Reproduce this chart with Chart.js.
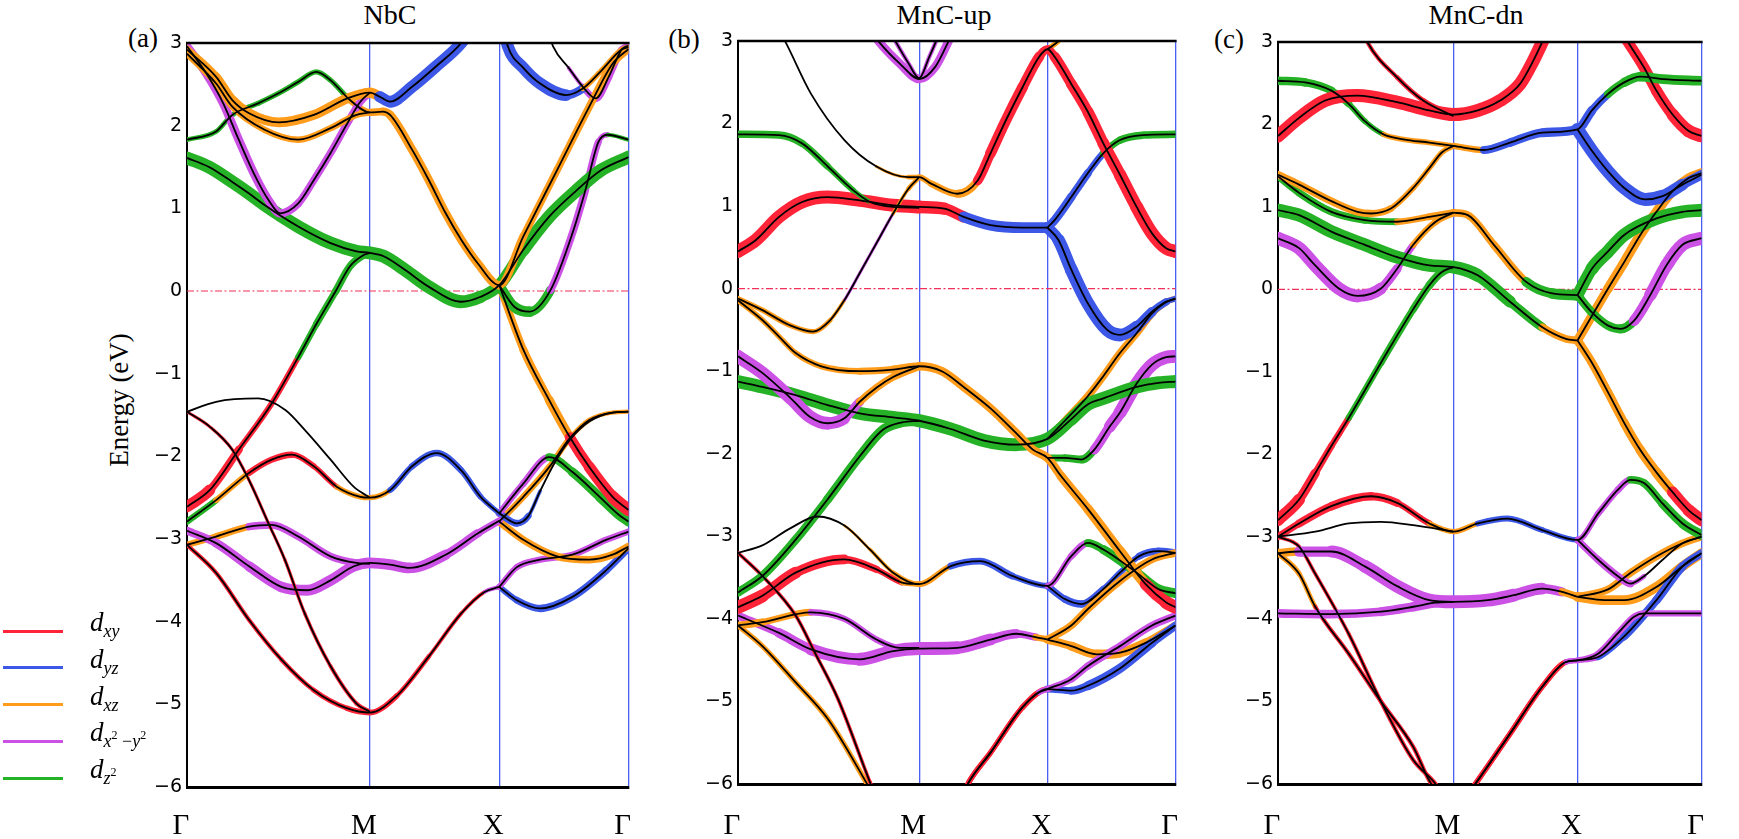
<!DOCTYPE html>
<html>
<head>
<meta charset="utf-8">
<title>d-orbital projected band structures</title>
<script src="https://cdn.jsdelivr.net/npm/chart.js@4.4.1/dist/chart.umd.min.js"></script>
<style>
  body { margin: 0; width: 1739px; height: 839px; background: #fff; position: relative; overflow: hidden; font-family: "Liberation Serif", serif; color: #000; }
  canvas { position: absolute; top: 0; }
  .lbl { position: absolute; transform: translate(-50%, -50%); white-space: nowrap; line-height: 1; }
  .title { font-size: 28px; }
  .tag { font-size: 27px; }
  .ylab { font-size: 27px; transform: translate(-50%, -50%) rotate(-90deg); }
  .key { position: absolute; left: 3px; width: 60px; height: 3px; }
  .keytxt { position: absolute; left: 90px; font-size: 27px; line-height: 27px; white-space: nowrap; }
  .keytxt sub { font-size: 18px; vertical-align: -6px; }
  .keytxt sup { font-size: 12px; vertical-align: 8px; }
</style>
</head>
<body>
<div class="lbl title" style="left:390px;top:15px">NbC</div>
<div class="lbl title" style="left:944px;top:15px">MnC-up</div>
<div class="lbl title" style="left:1476px;top:15px">MnC-dn</div>
<div class="lbl tag" style="left:143px;top:38px">(a)</div>
<div class="lbl tag" style="left:684px;top:39px">(b)</div>
<div class="lbl tag" style="left:1229px;top:39px">(c)</div>
<div class="lbl ylab" style="left:119px;top:400px">Energy (eV)</div>
<canvas id="nbc"></canvas>
<canvas id="mncUp"></canvas>
<canvas id="mncDn"></canvas>
<div id="legend"></div>
<script>
// k path Γ-M-X-Γ (units of π/a), energies in eV relative to E_F
const kNodes = [0, 1.414, 2.414, 3.414];
const kLabels = ['Γ', 'M', 'X', 'Γ'];
const yTicks = [-6, -5, -4, -3, -2, -1, 0, 1, 2, 3];
const fermiLevel = 0;

const orbColors = { xy: '#ff2438', yz: '#3d58e6', xz: '#ff9c1c', x2: '#cc52e6', z2: '#26b226' };
const legendRows = [
  ['xy', '<i>d</i><sub><i>xy</i></sub>'],
  ['yz', '<i>d</i><sub><i>yz</i></sub>'],
  ['xz', '<i>d</i><sub><i>xz</i></sub>'],
  ['x2', '<i>d</i><sub><i>x</i><sup>2</sup> &minus;<i>y</i><sup>2</sup></sub>'],
  ['z2', '<i>d</i><sub><i>z</i><sup>2</sup></sub>']
];

// each band: [k, E, dominant orbital, weight]
const nbcBands = [
  [[0,2.92,'xz',.5],[.225,2.59,'xz',.6],[.35,2.31,'xz',.7],[.48,2.15,'xz',.7],[.71,2.04,'xz',.7],[.98,2.13,'xz',.7],[1.24,2.33,'xz',.7],[1.414,2.4,'xz',.7],[1.49,2.35,'yz',.8],[1.57,2.29,'yz',.9],[1.74,2.47,'yz',.9],[1.92,2.71,'yz',.9],[2.12,3.0,'yz',.9],[2.25,3.3,'yz',.9]],
  [[0,2.87,'xz',.4],[.225,2.51,'xz',.4],[.35,2.23,'xz',.4],[.6,1.95,'xz',.4],[.86,1.83,'xz',.4],[1.11,1.97,'xz',.4],[1.31,2.13,'xz',.4],[1.414,2.16,'xz',.4]],
  [[0,2.96,'x2',.6],[.15,2.63,'x2',.6],[.28,2.27,'x2',.6],[.4,1.83,'x2',.6],[.53,1.38,'x2',.6],[.63,1.1,'x2',.6],[.72,.94,'x2',.6],[.86,1.06,'x2',.5],[.98,1.34,'x2',.5],[1.11,1.67,'x2',.5],[1.24,2.03,'x2',.5],[1.34,2.29,'x2',.5],[1.414,2.4,'x2',.5]],
  [[0,1.83,'z2',.25],[.225,1.93,'z2',.25],[.35,2.13,'z2',.25],[.55,2.27,'z2',.3],[.73,2.41,'z2',.3],[.86,2.53,'z2',.3],[1.0,2.65,'z2',.3],[1.11,2.55,'z2',.3],[1.26,2.31,'xz',.3],[1.414,2.16,'xz',.5],[1.515,2.17,'xz',.5],[1.57,2.13,'xz',.6],[1.74,1.71,'xz',.6],[1.87,1.34,'xz',.6],[2.0,.94,'xz',.6],[2.12,.62,'xz',.6],[2.25,.33,'xz',.6],[2.414,.07,'xz',.6],[2.6,.66,'xz',.5],[2.86,1.46,'xz',.5],[3.11,2.23,'xz',.5],[3.29,2.75,'xz',.5],[3.414,2.93,'xz',.5]],
  [[0,1.61,'z2',1],[.17,1.5,'z2',1],[.35,1.32,'z2',1],[.48,1.18,'z2',1],[.6,1.04,'z2',1],[.86,.78,'z2',1],[1.11,.58,'z2',1],[1.31,.48,'z2',1],[1.414,.46,'z2',1],[1.52,.42,'z2',1],[1.69,.25,'z2',1],[1.87,.05,'z2',1],[2.12,-.13,'z2',1],[2.27,-.07,'z2',.9],[2.414,.07,'z2',.8],[2.6,.5,'z2',1],[2.8,.9,'z2',1],[3.0,1.2,'z2',1],[3.2,1.46,'z2',1],[3.414,1.62,'z2',1]],
  [[2.414,.07,'z2',.6],[2.53,-.19,'z2',.8],[2.65,-.25,'z2',.8],[2.81,.01,'x2',.5],[2.98,.7,'x2',.5],[3.08,1.22,'x2',.5],[3.18,1.8,'x2',.4],[3.25,1.89,'z2',.2],[3.414,1.83,'z2',.2]],
  [[2.414,.07,'xz',.5],[2.6,-.71,'xz',.5],[2.8,-1.32,'xz',.6],[2.96,-1.77,'xy',.7],[3.11,-2.13,'xy',.8],[3.29,-2.49,'xy',.9],[3.414,-2.65,'xy',1]],
  [[0,-2.61,'xy',1],[.175,-2.41,'xy',.7],[.4,-1.92,'xy',.4],[.655,-1.36,'xy',.3],[.86,-.8,'z2',.4],[1.0,-.4,'z2',.4],[1.15,0,'z2',.5],[1.26,.3,'z2',.5],[1.36,.43,'z2',.5],[1.414,.46,'z2',.5]],
  [[0,-2.79,'z2',.5],[.225,-2.53,'xz',.3],[.48,-2.2,'xy',.4],[.655,-2.04,'xy',.4],[.81,-1.98,'xy',.4],[.98,-2.12,'xy',.3],[1.16,-2.37,'xz',.3],[1.34,-2.49,'xz',.3],[1.414,-2.5,'xz',.3],[1.57,-2.41,'yz',.3],[1.74,-2.12,'yz',.4],[1.93,-1.96,'yz',.4],[2.12,-2.17,'yz',.4],[2.27,-2.49,'yz',.3],[2.414,-2.69,'yz',.3]],
  [[0,-1.46,'',0],[.225,-1.34,'',0],[.55,-1.3,'',0],[.76,-1.44,'',0],[.91,-1.68,'',0],[1.11,-2.04,'',0],[1.29,-2.37,'',0],[1.414,-2.5,'',0]],
  [[0,-1.46,'xy',.1],[.175,-1.64,'xy',.1],[.35,-1.92,'xy',.1],[.48,-2.29,'xy',.1],[.63,-2.81,'xy',.1],[.756,-3.25,'xy',.1],[.91,-3.9,'xy',.15],[1.11,-4.54,'xy',.15],[1.31,-4.99,'xy',.2],[1.414,-5.09,'xy',.2]],
  [[0,-3.07,'xy',.2],[.225,-3.41,'xy',.2],[.48,-3.98,'xy',.2],[.73,-4.46,'xy',.2],[.98,-4.83,'xy',.25],[1.24,-5.05,'xy',.3],[1.414,-5.1,'xy',.35],[1.62,-4.9,'xy',.3],[1.87,-4.42,'xy',.2],[2.12,-3.9,'xy',.15],[2.3,-3.64,'x2',.15],[2.414,-3.58,'x2',.2]],
  [[0,-2.9,'x2',.5],[.225,-3.05,'x2',.6],[.48,-3.33,'x2',.7],[.73,-3.58,'x2',.8],[.93,-3.62,'x2',.8],[1.11,-3.5,'x2',.8],[1.29,-3.33,'x2',.8],[1.414,-3.29,'x2',.8],[1.57,-3.31,'x2',.8],[1.72,-3.35,'x2',.8],[2.0,-3.19,'x2',.7],[2.25,-2.93,'x2',.5],[2.414,-2.78,'x2',.4]],
  [[0,-3.07,'xz',.4],[.225,-2.97,'xz',.4],[.48,-2.85,'x2',.5],[.655,-2.83,'x2',.5],[.86,-2.97,'x2',.5],[1.11,-3.21,'x2',.5],[1.31,-3.29,'x2',.5],[1.414,-3.3,'x2',.5]],
  [[2.414,-2.69,'x2',.4],[2.6,-2.33,'x2',.4],[2.8,-2.01,'z2',.5],[2.98,-2.19,'z2',.6],[3.19,-2.49,'z2',.7],[3.34,-2.71,'z2',.7],[3.414,-2.79,'z2',.7]],
  [[2.414,-2.69,'yz',.4],[2.55,-2.81,'yz',.5],[2.64,-2.72,'yz',.3],[2.73,-2.42,'',0],[2.86,-2.03,'',0],[2.96,-1.8,'',0],[3.11,-1.58,'',0],[3.29,-1.47,'',0],[3.414,-1.46,'',0]],
  [[2.414,-2.79,'xz',.4],[2.6,-2.49,'xz',.4],[2.8,-2.13,'xz',.4],[2.96,-1.78,'xz',.3],[3.11,-1.56,'xz',.2],[3.29,-1.47,'xz',.2],[3.414,-1.46,'xz',.2]],
  [[2.414,-2.79,'xz',.5],[2.6,-3.01,'xz',.5],[2.86,-3.21,'xz',.5],[3.11,-3.25,'xz',.5],[3.29,-3.19,'xz',.5],[3.414,-3.09,'xz',.5]],
  [[2.414,-3.58,'x2',.3],[2.55,-3.34,'x2',.4],[2.73,-3.25,'x2',.4],[2.98,-3.19,'x2',.4],[3.24,-3.01,'x2',.4],[3.414,-2.91,'x2',.4]],
  [[2.414,-3.58,'yz',.3],[2.55,-3.74,'yz',.4],[2.73,-3.84,'yz',.5],[2.98,-3.7,'yz',.5],[3.24,-3.38,'yz',.5],[3.414,-3.11,'yz',.4]],
  [[2.43,3.3,'yz',.9],[2.48,2.96,'yz',.9],[2.6,2.7,'yz',.9],[2.73,2.51,'yz',.9],[2.93,2.37,'yz',.9],[3.06,2.45,'xz',.3],[3.2,2.66,'xz',.3],[3.36,2.92,'xz',.3],[3.414,2.95,'xz',.3]],
  [[2.78,3.2,'',0],[2.83,2.96,'',0],[2.95,2.7,'',0],[3.06,2.47,'x2',.3],[3.16,2.33,'x2',.5],[3.26,2.59,'x2',.5],[3.36,2.92,'x2',.4],[3.414,2.97,'x2',.4]]
];

const mncUpBands = [
  [[1.05,3.1,'x2',.6],[1.1,2.99,'x2',.6],[1.26,2.73,'x2',.6],[1.414,2.54,'x2',.6],[1.54,2.69,'x2',.6],[1.64,2.99,'x2',.6],[1.7,3.2,'x2',.6]],
  [[1.19,3.1,'x2',.2],[1.33,2.73,'x2',.2],[1.414,2.55,'x2',.2],[1.49,2.8,'x2',.2],[1.56,3.05,'x2',.2]],
  [[.33,3.1,'',0],[.37,2.99,'',0],[.57,2.36,'',0],[.83,1.8,'',0],[1.08,1.48,'',0],[1.33,1.35,'xz',.2],[1.414,1.35,'xz',.3],[1.51,1.27,'xz',.4],[1.71,1.15,'xz',.5],[1.87,1.31,'xy',.6],[1.97,1.64,'xy',.8],[2.09,2.04,'xy',.8],[2.22,2.44,'xy',.8],[2.35,2.81,'xy',.7],[2.414,2.9,'xy',.5],[2.47,2.81,'xy',.7],[2.6,2.48,'xy',.8],[2.73,2.14,'xy',.8],[2.85,1.76,'xy',.9],[2.98,1.38,'xy',.9],[3.11,.99,'xy',1],[3.23,.67,'xy',1],[3.34,.49,'xy',1],[3.414,.45,'xy',1]],
  [[0,-.12,'xz',.3],[.19,-.26,'xz',.3],[.4,-.44,'xz',.3],[.585,-.52,'xz',.3],[.72,-.38,'xz',.2],[.83,-.14,'x2',.1],[.95,.19,'x2',.1],[1.08,.55,'x2',.1],[1.21,.91,'xz',.1],[1.33,1.21,'xz',.2],[1.414,1.35,'xz',.3]],
  [[0,1.87,'z2',.5],[.32,1.86,'z2',.5],[.5,1.76,'z2',.5],[.7,1.48,'z2',.4],[.9,1.19,'z2',.3],[1.03,1.05,'xy',.2],[1.21,.99,'xy',.2],[1.414,.98,'xy',.3]],
  [[0,.45,'xy',1],[.14,.59,'xy',1],[.32,.87,'xy',1],[.5,1.05,'xy',1],[.7,1.11,'xy',1],[.95,1.07,'xy',1],[1.21,1.01,'xy',1],[1.414,.99,'xy',1],[1.61,.97,'xy',.9],[1.76,.87,'yz',.8],[1.97,.77,'yz',.8],[2.22,.74,'yz',.8],[2.414,.74,'yz',.8]],
  [[2.414,.74,'yz',.6],[2.47,.83,'yz',.6],[2.6,1.11,'yz',.6],[2.73,1.4,'yz',.5],[2.85,1.64,'z2',.4],[2.98,1.8,'z2',.5],[3.16,1.86,'z2',.5],[3.414,1.87,'z2',.5]],
  [[2.414,.74,'yz',.8],[2.5,.59,'yz',.9],[2.6,.23,'yz',1],[2.73,-.18,'yz',1],[2.88,-.5,'yz',1],[2.98,-.56,'yz',1],[3.11,-.46,'yz',.8],[3.23,-.28,'yz',.6],[3.34,-.16,'yz',.4],[3.414,-.12,'yz',.3]],
  [[0,-.14,'xz',.3],[.19,-.38,'xz',.3],[.32,-.58,'xz',.3],[.45,-.78,'xz',.3],[.65,-.94,'xz',.4],[.95,-1.0,'xz',.4],[1.21,-.98,'xz',.5],[1.414,-.94,'xz',.6],[1.59,-1.0,'xz',.6],[1.76,-1.19,'xz',.6],[1.97,-1.45,'xz',.6],[2.17,-1.75,'xz',.6],[2.3,-1.95,'xz',.6],[2.414,-2.05,'xz',.6],[2.52,-2.27,'xz',.6],[2.73,-2.67,'xz',.7],[2.98,-3.18,'xz',.7],[3.18,-3.58,'xy',.8],[3.34,-3.8,'xy',1],[3.414,-3.86,'xy',1]],
  [[0,-.82,'x2',1],[.19,-1.02,'x2',1],[.42,-1.34,'x2',1],[.56,-1.55,'x2',1],[.7,-1.63,'x2',1],[.83,-1.57,'x2',.8],[.95,-1.37,'xz',.5],[1.08,-1.2,'xz',.5],[1.21,-1.07,'xz',.5],[1.414,-.94,'xz',.5]],
  [[0,-1.125,'z2',1],[.19,-1.19,'z2',1],[.45,-1.29,'z2',1],[.7,-1.41,'z2',1],[.95,-1.51,'z2',1],[1.21,-1.56,'z2',1],[1.414,-1.6,'z2',1],[1.66,-1.7,'z2',1],[1.92,-1.84,'z2',1],[2.17,-1.89,'z2',1],[2.414,-1.82,'z2',.9],[2.6,-1.58,'z2',1],[2.73,-1.4,'z2',1],[2.85,-1.33,'z2',1],[3.11,-1.19,'z2',1],[3.28,-1.14,'z2',1],[3.414,-1.125,'z2',1]],
  [[2.414,-2.05,'z2',.4],[2.55,-2.05,'z2',.5],[2.68,-2.07,'z2',.5],[2.78,-1.95,'x2',.6],[2.9,-1.67,'x2',.8],[2.98,-1.5,'x2',1],[3.11,-1.15,'x2',1],[3.23,-.92,'x2',1],[3.34,-.83,'x2',1],[3.414,-.82,'x2',1]],
  [[2.414,-1.82,'xz',.4],[2.55,-1.6,'xz',.5],[2.73,-1.3,'xz',.5],[2.85,-1.06,'xz',.5],[2.98,-.78,'xz',.5],[3.11,-.54,'xz',.5],[3.23,-.3,'xz',.5],[3.34,-.16,'xz',.4],[3.414,-.12,'xz',.3]],
  [[0,-3.68,'z2',.6],[.19,-3.48,'z2',.6],[.45,-3.04,'z2',.6],[.7,-2.55,'z2',.6],[.95,-2.03,'z2',.7],[1.13,-1.71,'z2',.7],[1.28,-1.62,'z2',.7],[1.414,-1.6,'z2',.7]],
  [[0,-3.2,'',0],[.19,-3.11,'',0],[.4,-2.91,'',0],[.62,-2.76,'',0],[.83,-2.87,'',0],[1.03,-3.16,'xz',.1],[1.21,-3.44,'xz',.2],[1.414,-3.58,'xz',.3],[1.66,-3.36,'yz',.4],[1.89,-3.3,'yz',.5],[2.14,-3.48,'yz',.4],[2.414,-3.6,'x2',.3],[2.6,-3.24,'x2',.4],[2.73,-3.08,'z2',.5],[2.85,-3.16,'z2',.6],[3.11,-3.44,'z2',.7],[3.28,-3.64,'z2',.7],[3.414,-3.69,'z2',.7]],
  [[0,-3.86,'xy',1],[.19,-3.72,'xy',1],[.45,-3.44,'xy',.8],[.83,-3.28,'xy',.6],[1.08,-3.4,'xy',.4],[1.28,-3.56,'xz',.3],[1.414,-3.58,'xz',.3]],
  [[0,-3.2,'xy',.15],[.19,-3.48,'xy',.15],[.45,-3.96,'xy',.15],[.6,-4.41,'xy',.15],[.78,-4.97,'xy',.15],[1.03,-5.98,'xy',.15],[1.21,-6.66,'xy',.2],[1.414,-6.95,'xy',.2],[1.6,-6.66,'xy',.2],[1.8,-5.98,'xy',.3],[1.97,-5.62,'xy',.3],[2.22,-5.07,'xy',.3],[2.35,-4.89,'x2',.3],[2.414,-4.85,'x2',.4],[2.6,-4.73,'x2',.4],[2.73,-4.57,'x2',.5],[2.98,-4.33,'x2',.5],[3.23,-4.08,'x2',.5],[3.414,-3.96,'x2',.5]],
  [[0,-4.08,'xz',.3],[.19,-4.33,'xz',.3],[.45,-4.77,'xz',.3],[.7,-5.21,'xz',.3],[1.0,-5.98,'xz',.3],[1.16,-6.42,'xz',.3],[1.414,-6.95,'xz',.3],[1.66,-6.42,'xy',.3],[1.8,-5.98,'xy',.3],[1.97,-5.62,'xy',.3],[2.22,-5.07,'xy',.3],[2.414,-4.85,'yz',.4],[2.6,-4.87,'yz',.5],[2.73,-4.81,'yz',.6],[2.98,-4.6,'yz',.7],[3.23,-4.29,'yz',.6],[3.414,-4.08,'yz',.5]],
  [[0,-4.08,'xz',.5],[.19,-4.04,'xz',.5],[.57,-3.92,'x2',.4],[.83,-4.0,'x2',.4],[1.08,-4.25,'x2',.4],[1.26,-4.35,'x2',.4],[1.414,-4.35,'x2',.4]],
  [[0,-3.96,'x2',.5],[.32,-4.17,'x2',.6],[.57,-4.37,'x2',.8],[.95,-4.49,'x2',1],[1.21,-4.39,'x2',1],[1.414,-4.36,'x2',1],[1.71,-4.35,'x2',1],[1.97,-4.25,'x2',.8],[2.17,-4.18,'x2',.6],[2.32,-4.22,'xz',.4],[2.414,-4.25,'xz',.4]],
  [[2.414,-4.25,'xz',.5],[2.6,-4.08,'xz',.5],[2.73,-3.88,'xz',.5],[2.98,-3.54,'xz',.5],[3.23,-3.28,'xz',.5],[3.414,-3.2,'xz',.5]],
  [[2.414,-4.25,'xz',.5],[2.6,-4.33,'xz',.6],[2.8,-4.43,'xz',.7],[2.98,-4.41,'xz',.7],[3.18,-4.29,'xz',.6],[3.414,-4.08,'xz',.5]],
  [[2.414,-3.6,'yz',.4],[2.55,-3.76,'yz',.5],[2.68,-3.82,'yz',.5],[2.85,-3.64,'yz',.4],[2.98,-3.44,'yz',.3],[3.13,-3.24,'yz',.4],[3.28,-3.18,'yz',.5],[3.414,-3.2,'yz',.5]],
  [[2.414,2.9,'xz',.3],[2.5,3.0,'xz',.3],[2.6,3.2,'xz',.3]]
];

const mncDnBands = [
  [[0,1.86,'xy',1],[.17,2.08,'xy',1],[.38,2.29,'xy',1],[.64,2.35,'xy',1],[.96,2.27,'xy',1],[1.22,2.17,'xy',1],[1.414,2.12,'xy',1],[1.61,2.17,'xy',1],[1.79,2.29,'xy',1],[1.95,2.49,'xy',1],[2.06,2.78,'xy',1],[2.13,3.0,'xy',1],[2.19,3.2,'xy',1]],
  [[.68,3.15,'xy',.2],[.72,3.0,'xy',.2],[.96,2.57,'xy',.2],[1.17,2.29,'xy',.3],[1.414,2.1,'xy',.3]],
  [[0,2.53,'z2',.6],[.22,2.51,'z2',.6],[.43,2.41,'z2',.5],[.57,2.25,'z2',.4],[.7,2.04,'z2',.3],[.85,1.88,'xz',.3],[1.01,1.82,'xz',.3],[1.22,1.78,'xz',.3],[1.414,1.74,'xz',.3],[1.66,1.69,'yz',.5],[1.87,1.78,'yz',.6],[2.13,1.9,'yz',.6],[2.414,1.94,'yz',.7],[2.53,2.17,'yz',.6],[2.66,2.37,'z2',.5],[2.79,2.51,'z2',.6],[2.92,2.58,'z2',.7],[3.1,2.55,'z2',.7],[3.414,2.53,'z2',.7]],
  [[0,1.39,'xz',.5],[.17,1.27,'xz',.5],[.43,1.07,'xz',.5],[.64,.94,'xz',.5],[.75,.92,'xz',.5],[.91,.98,'xz',.4],[1.09,1.23,'xz',.3],[1.22,1.47,'xz',.3],[1.32,1.66,'xz',.3],[1.414,1.74,'xz',.3]],
  [[2.414,1.94,'yz',1],[2.53,1.68,'yz',1],[2.66,1.43,'yz',1],[2.79,1.23,'yz',1],[2.96,1.09,'yz',1],[3.1,1.13,'yz',1],[3.26,1.27,'yz',.8],[3.414,1.39,'yz',.6]],
  [[2.76,3.14,'xy',.8],[2.82,3.0,'xy',.8],[2.95,2.69,'xy',.8],[3.05,2.41,'xy',.8],[3.18,2.12,'xy',.9],[3.31,1.92,'xy',1],[3.414,1.86,'xy',1]],
  [[0,.96,'z2',1],[.17,.9,'z2',1],[.43,.7,'z2',1],[.7,.54,'z2',1],[.96,.39,'z2',1],[1.22,.29,'z2',1],[1.414,.27,'z2',1],[1.61,.17,'z2',1],[1.87,-.15,'z2',.8],[2.13,-.46,'xz',.5],[2.32,-.6,'xz',.5],[2.414,-.62,'xz',.5]],
  [[1.414,.93,'xz',.5],[1.53,.9,'xz',.5],[1.74,.54,'xz',.5],[2.0,.09,'z2',.6],[2.21,-.05,'z2',.8],[2.414,-.07,'z2',.8]],
  [[0,1.37,'z2',.4],[.17,1.17,'z2',.5],[.43,.94,'z2',.5],[.7,.84,'z2',.5],[.96,.82,'xz',.4],[1.22,.88,'xz',.4],[1.414,.93,'xz',.5]],
  [[0,.62,'x2',1],[.17,.5,'x2',1],[.3,.29,'x2',1],[.49,.01,'x2',1],[.64,-.08,'x2',1],[.83,.01,'x2',.8],[.96,.25,'x2',.5],[1.09,.54,'xz',.4],[1.27,.82,'xz',.4],[1.414,.93,'xz',.5]],
  [[2.414,-.07,'z2',.8],[2.53,.25,'z2',1],[2.66,.46,'z2',1],[2.79,.66,'z2',1],[3.05,.86,'z2',1],[3.26,.94,'z2',1],[3.414,.96,'z2',1]],
  [[2.414,-.07,'z2',.6],[2.53,-.28,'z2',.6],[2.66,-.44,'z2',.6],[2.76,-.48,'z2',.6],[2.87,-.38,'x2',.7],[3.0,-.07,'x2',.9],[3.13,.29,'x2',1],[3.26,.54,'x2',1],[3.414,.62,'x2',1]],
  [[2.414,-.62,'xz',.6],[2.66,.01,'xz',.7],[2.79,.33,'xz',.7],[2.92,.66,'xz',.7],[3.05,.94,'xz',.7],[3.18,1.19,'xz',.7],[3.31,1.35,'xz',.7],[3.414,1.41,'xz',.7]],
  [[2.414,-.62,'xz',.6],[2.53,-.89,'xz',.6],[2.66,-1.25,'xz',.6],[2.79,-1.62,'xz',.6],[2.92,-1.95,'xz',.7],[3.05,-2.22,'xz',.7],[3.18,-2.46,'xy',.8],[3.31,-2.68,'xy',.9],[3.414,-2.8,'xy',1]],
  [[0,-2.8,'xy',1],[.17,-2.55,'xy',.8],[.3,-2.23,'xy',.5],[.43,-1.9,'xy',.4],[.57,-1.56,'z2',.4],[.83,-.89,'z2',.4],[1.09,-.24,'z2',.5],[1.22,.05,'z2',.5],[1.32,.21,'z2',.6],[1.414,.27,'z2',.6]],
  [[0,-3.0,'xy',.4],[.17,-2.84,'xy',.5],[.43,-2.63,'xy',.6],[.75,-2.51,'xy',.6],[.96,-2.59,'xy',.5],[1.22,-2.84,'xz',.3],[1.414,-2.94,'xz',.3],[1.61,-2.84,'yz',.3],[1.85,-2.78,'yz',.4],[2.13,-2.92,'yz',.3],[2.414,-3.04,'x2',.3],[2.58,-2.72,'x2',.4],[2.74,-2.43,'x2',.4],[2.84,-2.31,'z2',.5],[2.95,-2.35,'z2',.5],[3.1,-2.6,'z2',.6],[3.26,-2.84,'z2',.7],[3.414,-2.98,'z2',.7]],
  [[0,-3.0,'',0],[.3,-2.94,'',0],[.57,-2.84,'',0],[.83,-2.82,'',0],[1.09,-2.86,'',0],[1.414,-2.94,'',0]],
  [[0,-3.2,'xz',.5],[.17,-3.18,'x2',.7],[.43,-3.18,'x2',.8],[.7,-3.36,'x2',1],[.96,-3.6,'x2',1],[1.22,-3.77,'x2',1],[1.414,-3.79,'x2',1],[1.69,-3.77,'x2',1],[1.9,-3.71,'x2',1],[2.13,-3.63,'x2',.8],[2.29,-3.67,'xz',.5],[2.414,-3.73,'xz',.5]],
  [[0,-3.93,'x2',.6],[.43,-3.94,'x2',.6],[.83,-3.91,'x2',.6],[1.09,-3.85,'x2',.7],[1.27,-3.8,'x2',.7],[1.414,-3.79,'x2',.7]],
  [[0,-3.0,'xy',.15],[.17,-3.12,'xy',.15],[.3,-3.45,'xy',.15],[.57,-4.18,'xy',.15],[.83,-5.0,'xy',.2],[1.09,-5.71,'xy',.2],[1.27,-6.0,'xy',.2],[1.414,-6.35,'xy',.2],[1.59,-6.0,'xy',.3],[1.87,-5.39,'xy',.3],[2.13,-4.82,'xy',.3],[2.32,-4.52,'x2',.3],[2.414,-4.5,'x2',.3],[2.58,-4.42,'x2',.4],[2.74,-4.17,'x2',.4],[2.87,-3.97,'x2',.4],[2.95,-3.93,'x2',.4],[3.18,-3.93,'x2',.4],[3.414,-3.93,'x2',.4]],
  [[0,-3.2,'xz',.3],[.17,-3.45,'xz',.3],[.3,-3.85,'xy',.2],[.57,-4.42,'xy',.2],[.83,-5.0,'xy',.2],[1.09,-5.55,'xy',.2],[1.22,-5.96,'xy',.2],[1.414,-6.35,'xy',.2],[1.59,-6.0,'xy',.3],[1.87,-5.39,'xy',.3],[2.13,-4.82,'xy',.3],[2.32,-4.52,'x2',.3],[2.414,-4.5,'x2',.3],[2.58,-4.46,'yz',.3],[2.79,-4.21,'yz',.5],[3.05,-3.77,'yz',.6],[3.26,-3.36,'yz',.6],[3.414,-3.2,'yz',.5]],
  [[2.414,-3.04,'x2',.4],[2.58,-3.28,'x2',.5],[2.74,-3.48,'x2',.5],[2.84,-3.57,'x2',.5],[2.95,-3.48,'',0],[3.1,-3.28,'',0],[3.26,-3.08,'',0],[3.414,-3.0,'',0]],
  [[2.414,-3.73,'xz',.5],[2.66,-3.64,'xz',.5],[2.84,-3.44,'xz',.5],[3.05,-3.24,'xz',.5],[3.26,-3.08,'xz',.5],[3.414,-3.0,'xz',.5]],
  [[2.414,-3.73,'xz',.7],[2.63,-3.77,'xz',.7],[2.79,-3.77,'xz',.7],[3.05,-3.61,'xz',.7],[3.26,-3.36,'xz',.7],[3.414,-3.2,'xz',.7]]
];

const clear = 'rgba(0,0,0,0)';

function haloColor(band, c) {
  const a = band[c.p0DataIndex], b = band[c.p1DataIndex];
  const p = a[2] ? a : b;
  return p[2] ? orbColors[p[2]] : clear;
}

function haloWidth(band, c) {
  const w = (band[c.p0DataIndex][3] + band[c.p1DataIndex][3]) / 2;
  return 2 + 11 * w;
}

function bandSets(bands) {
  const halos = bands.map(band => ({
    data: band.map(p => ({ x: p[0], y: p[1] })),
    borderColor: clear,
    borderWidth: 4,
    borderCapStyle: 'round',
    order: 2,
    clip: 0,
    segment: {
      borderColor: c => haloColor(band, c),
      borderWidth: c => haloWidth(band, c)
    }
  }));
  const lines = bands.map(band => ({
    data: band.map(p => ({ x: p[0], y: p[1] })),
    borderColor: '#000',
    borderWidth: 1.8,
    order: 1,
    clip: 0
  }));
  return halos.concat(lines);
}

const topFrame = {
  id: 'topFrame',
  afterDraw(chart) {
    const { ctx, chartArea: a } = chart;
    ctx.save();
    ctx.strokeStyle = '#000';
    ctx.lineWidth = 2.5;
    ctx.beginPath();
    ctx.moveTo(a.left - 1, a.top);
    ctx.lineTo(a.right + 1, a.top);
    ctx.stroke();
    ctx.restore();
  }
};

function drawPanel(id, bands, box) {
  const padL = 60, padR = 22;
  const cv = document.getElementById(id);
  cv.width = box.right - box.left + padL + padR;
  cv.height = 839;
  cv.style.left = (box.left - padL) + 'px';

  const fermi = {
    data: [{ x: kNodes[0], y: fermiLevel }, { x: kNodes[3], y: fermiLevel }],
    borderColor: '#f2305a',
    borderWidth: 1.2,
    borderDash: [7, 2.5, 2, 2.5],
    order: 3,
    clip: 0
  };

  new Chart(cv, {
    type: 'line',
    data: { datasets: [fermi].concat(bandSets(bands)) },
    options: {
      animation: false,
      responsive: false,
      devicePixelRatio: 1,
      events: [],
      layout: { padding: { left: 0, right: padR, top: box.top, bottom: 0 } },
      plugins: { legend: { display: false }, tooltip: { enabled: false } },
      elements: {
        point: { radius: 0 },
        line: { cubicInterpolationMode: 'monotone', capBezierPoints: false, borderJoinStyle: 'round' }
      },
      scales: {
        x: {
          type: 'linear',
          min: kNodes[0],
          max: kNodes[3],
          afterBuildTicks: s => { s.ticks = kNodes.map(v => ({ value: v })); },
          afterFit: s => { s.height = 839 - box.bottom; },
          ticks: {
            callback: (v, i) => kLabels[i],
            font: { family: 'Liberation Serif', size: 29 },
            color: '#000',
            padding: 826 - box.bottom - 17,
            labelOffset: -6,
            maxRotation: 0,
            autoSkip: false
          },
          grid: {
            color: c => c.index === 0 ? clear : '#4a5ef0',
            lineWidth: 1.3,
            drawTicks: false
          },
          border: { color: '#000', width: 3 }
        },
        y: {
          min: -6,
          max: 3,
          afterBuildTicks: s => { s.ticks = yTicks.map(v => ({ value: v })); },
          afterFit: s => { s.width = padL; },
          ticks: {
            callback: v => v < 0 ? '\u2212' + (-v) : String(v),
            font: { family: 'DejaVu Sans', size: 19 },
            color: '#000',
            padding: 5
          },
          grid: { display: false, drawTicks: false },
          border: { color: '#000', width: 2 }
        }
      }
    },
    plugins: [topFrame]
  });
}

drawPanel('nbc', nbcBands, { left: 187, right: 637, top: 43, bottom: 787 });
drawPanel('mncUp', mncUpBands, { left: 738, right: 1187, top: 41, bottom: 784 });
drawPanel('mncDn', mncDnBands, { left: 1278, right: 1713, top: 42, bottom: 784 });

// shared orbital key, bottom left
const legend = document.getElementById('legend');
legendRows.forEach(([orb, html], i) => {
  const y = 631 + i * 36.75;
  const line = document.createElement('div');
  line.className = 'key';
  line.style.top = (y - 1.5) + 'px';
  line.style.background = orbColors[orb];
  legend.appendChild(line);
  const txt = document.createElement('div');
  txt.className = 'keytxt';
  txt.style.top = (y - 22) + 'px';
  txt.innerHTML = html;
  legend.appendChild(txt);
});
</script>
</body>
</html>
